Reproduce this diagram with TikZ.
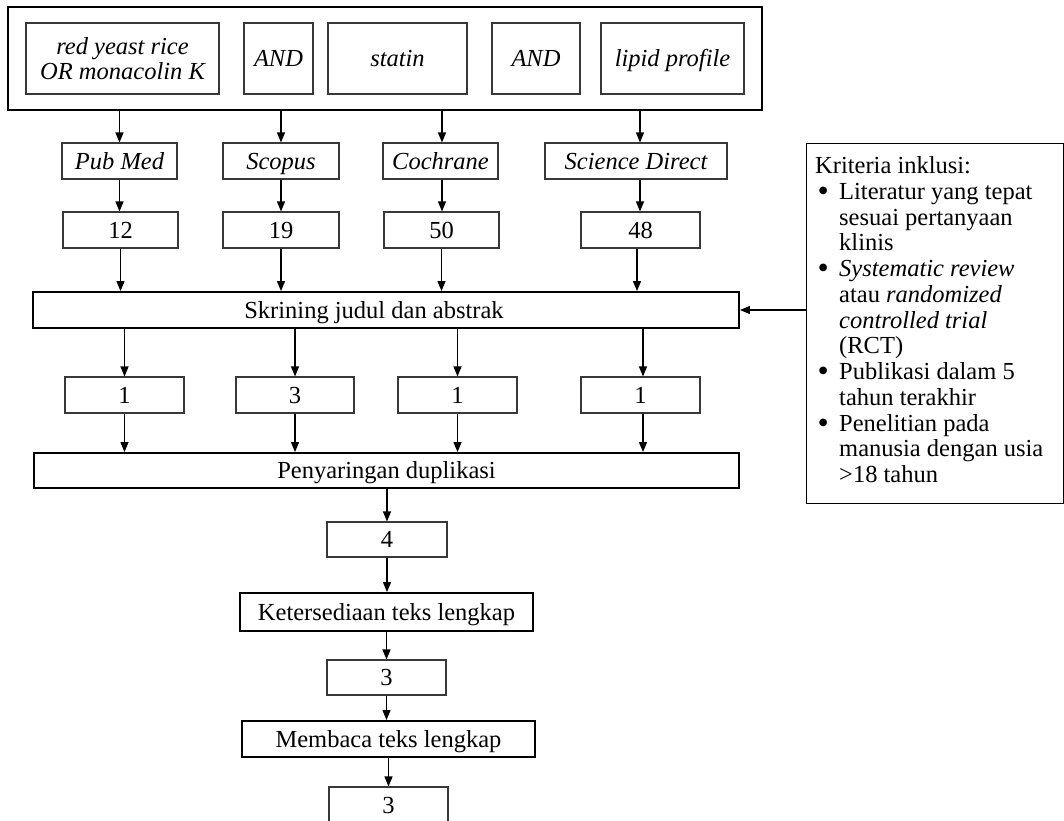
\documentclass[tikz,border=0pt]{standalone}
\usepackage{fontspec}
\setmainfont{Liberation Serif}
\usetikzlibrary{arrows.meta}
\newcommand\mainfs{\fontsize{24.5}{25.75}\selectfont}
\newcommand\critbul{\makebox[16pt]{\raisebox{-2pt}{\fontsize{32}{25.75}\selectfont\textbullet}}\hspace*{8pt}}
\tikzset{
  tboxbase/.style={draw=black!78, line width=1.1pt, inner sep=0pt, minimum height=36pt, font=\mainfs},
  tline/.style={text height=19pt, text depth=3pt},
  tbox/.style={tboxbase, tline},
  kbox/.style={draw=black, line width=1.9pt, inner sep=0pt, font=\mainfs, tline},
  arr/.style={line width=1.2pt, -{Triangle[length=10pt,width=8pt]}},
}
\begin{document}
\begin{tikzpicture}[x=1pt,y=-1pt]
\useasboundingbox (0,0) rectangle (1064,820);
\clip (0,0) rectangle (1064,820);
% search box
\node[draw=black, line width=1.9pt, inner sep=0pt, minimum width=754pt, minimum height=103pt] (search) at (385,58.5) {};
\node[tboxbase, minimum width=193pt, minimum height=71pt, align=center] (rye) at (122.5,58.5) {\itshape red yeast rice\\\itshape OR monacolin K};
\node[tbox, minimum width=69pt, minimum height=71pt] (and1) at (278.5,58.5) {\itshape AND};
\node[tbox, minimum width=139pt, minimum height=71pt] (statin) at (397.5,58.5) {\itshape statin};
\node[tbox, minimum width=88pt, minimum height=71pt] (and2) at (536,58.5) {\itshape AND};
\node[tbox, minimum width=143pt, minimum height=71pt] (lipid) at (672.5,58.5) {\itshape lipid profile};
% databases
\node[tbox, minimum width=115pt] (pubmed) at (119.5,161) {\itshape Pub Med};
\node[tbox, minimum width=116pt] (scopus) at (281,161) {\itshape Scopus};
\node[tbox, minimum width=115pt] (cochrane) at (440.5,161) {\itshape Cochrane};
\node[tbox, minimum width=182pt] (sd) at (636,161) {\itshape Science Direct};
% counts
\node[tbox, minimum width=115pt] (n12) at (120.5,230) {12};
\node[tbox, minimum width=116pt] (n19) at (281,230) {19};
\node[tbox, minimum width=115pt] (n50) at (441.5,230) {50};
\node[tbox, minimum width=119pt] (n48) at (640.5,230) {48};
% screening
\node[kbox, minimum width=706pt, minimum height=36pt] (skr) at (386,310) {Skrining judul dan abstrak\hspace*{24pt}};
\node[tbox, minimum width=119pt] (r1) at (124.5,395) {1};
\node[tbox, minimum width=118pt] (r2) at (295,395) {3};
\node[tbox, minimum width=119pt] (r3) at (457.5,395) {1};
\node[tbox, minimum width=119pt] (r4) at (640.5,395) {1};
\node[kbox, minimum width=705pt, minimum height=35pt] (pen) at (386.5,470.5) {Penyaringan duplikasi};
\node[tbox, minimum width=120pt, minimum height=35pt] (n4) at (387,539.5) {4};
\node[kbox, minimum width=293pt, minimum height=38pt] (ket) at (386.5,612) {Ketersediaan teks lengkap};
\node[tbox, minimum width=119pt, minimum height=35pt] (n3a) at (386.5,677.5) {3};
\node[kbox, minimum width=293pt, minimum height=36pt] (mem) at (388.5,739) {Membaca teks lengkap};
\node[tbox, minimum width=119pt, minimum height=36pt] (n3b) at (388.5,805) {3};
% criteria
\node[draw=black, line width=1.1pt, minimum width=257pt, minimum height=360pt, inner sep=0pt, anchor=north west] (crit) at (806,143) {};
\node[anchor=north west, inner sep=0pt, align=left, font=\mainfs] (crittext) at (815,156.3) {%
Kriteria inklusi:\\
\critbul Literatur yang tepat\\
\hspace*{24pt}sesuai pertanyaan\\
\hspace*{24pt}klinis\\
\critbul\textit{Systematic review}\\
\hspace*{24pt}atau \textit{randomized}\\
\hspace*{24pt}\textit{controlled trial}\\
\hspace*{24pt}(RCT)\\
\critbul Publikasi dalam 5\\
\hspace*{24pt}tahun terakhir\\
\critbul Penelitian pada\\
\hspace*{24pt}manusia dengan usia\\
\hspace*{24pt}>18 tahun};
% arrows: search -> databases
\draw[arr] (pubmed.north |- search.south) -- (pubmed.north);
\draw[arr] (scopus.north |- search.south) -- (scopus.north);
\draw[arr] ([xshift=1.5pt]cochrane.north |- search.south) -- ([xshift=1.5pt]cochrane.north);
\draw[arr] ([xshift=4pt]sd.north |- search.south) -- ([xshift=4pt]sd.north);
% databases -> counts
\draw[arr] (pubmed.south) -- (pubmed.south |- n12.north);
\draw[arr] (scopus.south) -- (scopus.south |- n19.north);
\draw[arr] ([xshift=1.5pt]cochrane.south) -- ([xshift=1.5pt]cochrane.south |- n50.north);
\draw[arr] ([xshift=4pt]sd.south) -- ([xshift=4pt]sd.south |- n48.north);
% counts -> screening
\draw[arr] (n12.south) -- (n12.south |- skr.north);
\draw[arr] (n19.south) -- (n19.south |- skr.north);
\draw[arr] (n50.south) -- (n50.south |- skr.north);
\draw[arr] ([xshift=-3.5pt]n48.south) -- ([xshift=-3.5pt]n48.south |- skr.north);
% criteria -> screening
\draw[arr] (crit.west |- skr.east) -- (skr.east);
% screening -> results
\draw[arr] (r1.north |- skr.south) -- (r1.north);
\draw[arr] (r2.north |- skr.south) -- (r2.north);
\draw[arr] (r3.north |- skr.south) -- (r3.north);
\draw[arr] ([xshift=2.5pt]r4.north |- skr.south) -- ([xshift=2.5pt]r4.north);
% results -> duplicates
\draw[arr] (r1.south) -- (r1.south |- pen.north);
\draw[arr] (r2.south) -- (r2.south |- pen.north);
\draw[arr] (r3.south) -- (r3.south |- pen.north);
\draw[arr] ([xshift=2.5pt]r4.south) -- ([xshift=2.5pt]r4.south |- pen.north);
% vertical chain
\draw[arr] (n4.north |- pen.south) -- (n4.north);
\draw[arr] (n4.south) -- (n4.south |- ket.north);
\draw[arr] (n3a.north |- ket.south) -- (n3a.north);
\draw[arr] (n3a.south) -- (n3a.south |- mem.north);
\draw[arr] (n3b.north |- mem.south) -- (n3b.north);
\end{tikzpicture}
\end{document}
